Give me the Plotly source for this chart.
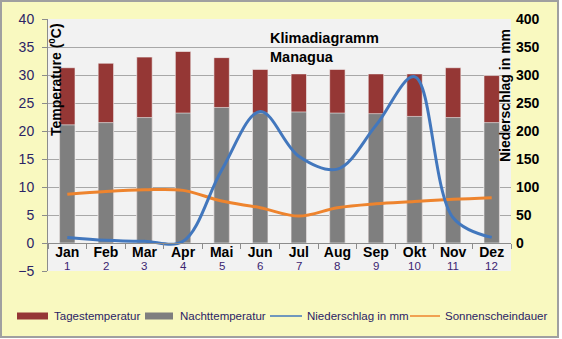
import plotly.graph_objects as go

# Klimadiagramm Managua – monthly climate values
months = ["Jan", "Feb", "Mar", "Apr", "Mai", "Jun", "Jul", "Aug", "Sep", "Okt", "Nov", "Dez"]
month_numbers = ["1", "2", "3", "4", "5", "6", "7", "8", "9", "10", "11", "12"]
tagestemperatur = [31.3, 32.1, 33.2, 34.2, 33.1, 31.0, 30.2, 31.0, 30.2, 30.2, 31.3, 29.9]
nachttemperatur = [21.1, 21.5, 22.4, 23.2, 24.2, 23.2, 23.4, 23.2, 23.1, 22.6, 22.4, 21.5]
niederschlag = [10, 5, 3, 3, 130, 235, 155, 132, 210, 297, 45, 10]
sonnenscheindauer = [8.7, 9.2, 9.5, 9.4, 7.5, 6.3, 4.8, 6.3, 7.0, 7.4, 7.8, 8.1]
temp_ticks = [-5, 0, 5, 10, 15, 20, 25, 30, 35, 40]
rain_ticks = [0, 50, 100, 150, 200, 250, 300, 350, 400]

W, H = 559, 338
L, R, T, B = 48, 511, 19, 271


def px(x):
    return (x - L) / (R - L)


def py(y):
    return (B - y) / (B - T)


RED = "#953735"
GREY = "#7F7F7F"
BLUE = "#4277BD"
ORANGE = "#EE842E"
YELLOW = "#F9F9C0"
NAVY = "#2B2466"

fig = go.Figure()
fig.add_trace(go.Bar(x=months, y=tagestemperatur, name="Tagestemperatur", width=0.4,
                     marker=dict(color=RED, line=dict(color="#F4F4F4", width=0.6))))
fig.add_trace(go.Bar(x=months, y=nachttemperatur, name="Nachttemperatur", width=0.4,
                     marker=dict(color=GREY, line=dict(color="#F4F4F4", width=0.6))))
fig.add_trace(go.Scatter(x=months, y=sonnenscheindauer, name="Sonnenscheindauer", mode="lines",
                         line=dict(color=ORANGE, width=3, shape="spline", smoothing=1.0)))
fig.add_trace(go.Scatter(x=months, y=niederschlag, name="Niederschlag in mm", mode="lines",
                         yaxis="y2",
                         line=dict(color=BLUE, width=3, shape="spline", smoothing=1.0)))

fig.update_layout(
    width=W, height=H,
    margin=dict(l=L, r=W - R, t=T, b=H - B, pad=0),
    paper_bgcolor=YELLOW,
    plot_bgcolor="#F2F2F2",
    barmode="overlay",
    showlegend=False,
    font=dict(family="Arial", color="black"),
    xaxis=dict(
        type="category", anchor="free", position=5 / 45,
        showline=True, linecolor="#8C8C8C", linewidth=1,
        ticks="outside", ticklen=5, tickcolor="#8C8C8C", tickson="boundaries",
        showgrid=False, ticklabelstandoff=-4,
        tickfont=dict(family="Arial", size=14, color="black", weight="bold"),
    ),
    yaxis=dict(
        range=[-5, 40], tickvals=temp_ticks,
        showgrid=True, gridcolor="#A8A8A8", gridwidth=1, zeroline=False,
        showline=True, linecolor="#8C8C8C", linewidth=1,
        ticks="outside", ticklen=5, tickcolor="#8C8C8C", ticklabelstandoff=5,
        tickfont=dict(family="Arial", size=14, color=NAVY),
    ),
    yaxis2=dict(
        range=[-50, 400], tickvals=rain_ticks, overlaying="y", side="right",
        showgrid=False, zeroline=False, showline=False, ticks="",
        ticklabelstandoff=4,
        tickfont=dict(family="Arial", size=14, color="black", weight="bold"),
    ),
)

annotations = [
    dict(text="<b>Klimadiagramm</b>", x=px(268), y=py(38.5), xanchor="left", yanchor="middle",
         font=dict(size=14.5, color="black")),
    dict(text="<b>Managua</b>", x=px(268), y=py(57), xanchor="left", yanchor="middle",
         font=dict(size=14.5, color="black")),
    dict(text="<b>Temperature (<sup>0</sup>C)</b>", x=px(55), y=py(80), textangle=-90,
         xanchor="center", yanchor="middle", font=dict(size=14, color="black")),
    dict(text="<b>Niederschlag in mm</b>", x=px(505), y=py(96), textangle=-90,
         xanchor="center", yanchor="middle", font=dict(size=14, color="black")),
]
for a in annotations:
    a.update(xref="paper", yref="paper", showarrow=False)

# month numbers below the month names
for m, n in zip(months, month_numbers):
    annotations.append(dict(text=n, x=m, y=-4.15, xref="x", yref="y", showarrow=False,
                            xanchor="center", yanchor="middle",
                            font=dict(family="Arial", size=11.5, color="#3B2470")))

# legend row
legend_y = 316
legend_items = [
    ("rect", RED, 17, 48, "Tagestemperatur", 52),
    ("rect", GREY, 145, 173, "Nachttemperatur", 178),
    ("line", BLUE, 270, 302, "Niederschlag in mm", 305),
    ("line", ORANGE, 410, 440, "Sonnenscheindauer", 443),
]
shapes = []
for kind, color, x0, x1, label, tx in legend_items:
    if kind == "rect":
        shapes.append(dict(type="rect", xref="paper", yref="paper",
                           x0=px(x0), x1=px(x1), y0=py(legend_y + 3.5), y1=py(legend_y - 3.5),
                           fillcolor=color, line=dict(width=0)))
    else:
        shapes.append(dict(type="line", xref="paper", yref="paper",
                           x0=px(x0), x1=px(x1), y0=py(legend_y), y1=py(legend_y),
                           line=dict(color=color, width=1.5)))
    annotations.append(dict(text=label, x=px(tx), y=py(legend_y), xref="paper", yref="paper",
                            showarrow=False, xanchor="left", yanchor="middle",
                            font=dict(family="Arial", size=11.5, color=NAVY)))

# chart frame
shapes.append(dict(type="rect", xref="paper", yref="paper", layer="above",
                   x0=px(1), x1=px(558), y0=py(337), y1=py(1),
                   line=dict(color="#A0A0A0", width=2), fillcolor="rgba(0,0,0,0)"))

fig.update_layout(annotations=annotations, shapes=shapes)
fig.write_html("out.html")
